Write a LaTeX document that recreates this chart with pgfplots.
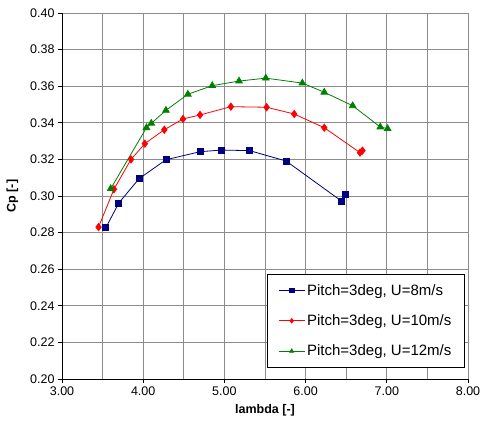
\documentclass[border=0pt]{standalone}
\usepackage{fontspec}
\setmainfont{Liberation Sans}
\usepackage{pgfplots}
\pgfplotsset{compat=1.18}

\definecolor{s8}{RGB}{0,0,128}
\definecolor{s10}{RGB}{255,0,0}
\definecolor{s12}{RGB}{0,128,0}
\definecolor{gridgray}{RGB}{140,140,140}

\begin{document}
\begin{tikzpicture}
  \begin{axis}[scale only axis, width=406pt, height=366pt,
    at={(0,0)}, anchor=south west,
    xmin=3, xmax=8, ymin=0.2, ymax=0.4,
    xtick={3,4,5,6,7,8}, minor xtick={3.5,4.5,5.5,6.5,7.5},
    ytick={0.20,0.22,0.24,0.26,0.28,0.30,0.32,0.34,0.36,0.38,0.40},
    axis x line*=bottom, axis y line*=left,
    tick align=outside, major tick length=4pt, minor tick length=0pt,
    grid=both,
    major grid style={gridgray, line width=0.6pt},
    minor grid style={gridgray, line width=0.6pt},
    axis line style={black, line width=0.6pt},
    tick style={black, line width=0.6pt},
    ticklabel style={font=\fontsize{12.5}{14}\selectfont},
    /pgf/number format/assume math mode=true,
    /pgf/number format/.cd, fixed, fixed zerofill, precision=2, /pgfplots/.cd,
    xlabel={\textbf{lambda [-]}}, ylabel={\textbf{Cp [-]}},
    label style={font=\fontsize{12.5}{14}\selectfont},
    xlabel style={yshift=-2pt},
    ylabel style={yshift=5pt},
    legend cell align=left,
    legend style={at={(0.505,0.287)}, anchor=north west,
      font=\fontsize{15}{17}\selectfont, draw=black, fill=white,
      row sep=14pt, inner xsep=11pt, inner ysep=8pt, line width=0.6pt},
    legend image code/.code={\draw[mark repeat=2, mark phase=2, #1, mark size=2.2pt]
      plot coordinates {(0pt,0pt) (13pt,0pt) (26pt,0pt)};},
  ]
    \addplot[s8, line width=0.8pt, mark=square*, mark size=3pt] coordinates {
      (3.54,0.2827) (3.70,0.2962) (3.95,0.3095) (4.28,0.3198) (4.70,0.3242)
      (4.96,0.3251) (5.31,0.3248) (5.76,0.3191) (6.44,0.2973) (6.49,0.3007)};
    \addlegendentry{Pitch=3deg, U=8m/s}
    \addplot[s10, line width=0.8pt, mark=diamond*, mark size=3.6pt] coordinates {
      (3.45,0.2830) (3.64,0.3037) (3.85,0.3200) (4.02,0.3286) (4.26,0.3362)
      (4.49,0.3421) (4.70,0.3443) (5.08,0.3488) (5.52,0.3485) (5.86,0.3448)
      (6.23,0.3373) (6.67,0.3237) (6.70,0.3248)};
    \addlegendentry{Pitch=3deg, U=10m/s}
    \addplot[s12, line width=0.8pt, mark=triangle*, mark size=3.8pt] coordinates {
      (3.60,0.3040) (4.04,0.3373) (4.10,0.3397) (4.28,0.3468) (4.55,0.3556)
      (4.85,0.3603) (5.18,0.3628) (5.51,0.3644) (5.96,0.3617) (6.23,0.3567)
      (6.58,0.3493) (6.92,0.3377) (7.01,0.3368)};
    \addlegendentry{Pitch=3deg, U=12m/s}
  \end{axis}
  \pgfresetboundingbox
  \path (-62pt,-51pt) rectangle (418pt,379pt);
\end{tikzpicture}
\end{document}
